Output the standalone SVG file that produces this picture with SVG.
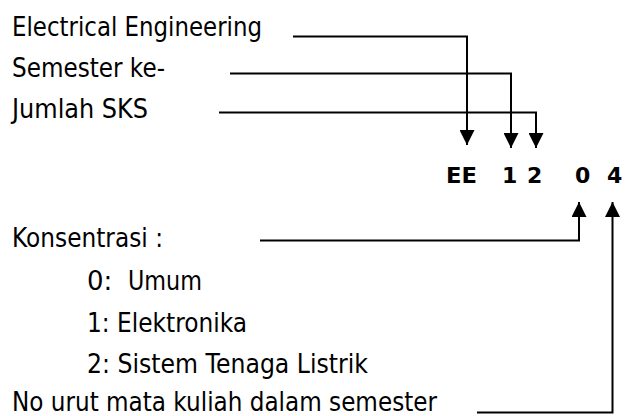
<svg xmlns="http://www.w3.org/2000/svg" width="627" height="416" viewBox="0 0 627 416">
<defs>
<style>
.t{font-family:"DejaVu Sans","Liberation Sans",sans-serif;font-size:26px;fill:#000}
.b{font-family:"DejaVu Sans","Liberation Sans",sans-serif;font-weight:bold;font-size:22px;fill:#000}
.c{fill:none;stroke:#000;stroke-width:2}
</style>
<marker id="ah" viewBox="0 0 15 15" refX="15" refY="7.5" markerWidth="15" markerHeight="15" markerUnits="userSpaceOnUse" orient="auto">
<path d="M0,0 L15,7.5 L0,15 Z" fill="#000"/>
</marker>
</defs>
<rect width="627" height="416" fill="#fff"/>
<g id="label-ee"><text class="t" x="12" y="36" textLength="250" lengthAdjust="spacingAndGlyphs">Electrical Engineering</text></g>
<g id="label-semester"><text class="t" x="12" y="77" textLength="153" lengthAdjust="spacingAndGlyphs">Semester ke-</text></g>
<g id="label-sks"><text class="t" x="12" y="118" textLength="136" lengthAdjust="spacingAndGlyphs">Jumlah SKS</text></g>
<g id="code">
<text class="b" x="446" y="183" textLength="31" lengthAdjust="spacingAndGlyphs">EE</text>
<text class="b" x="502" y="183">1</text>
<text class="b" x="527" y="183">2</text>
<text class="b" x="575" y="183">0</text>
<text class="b" x="607" y="183">4</text>
</g>
<g id="label-konsentrasi"><text class="t" x="12" y="247" textLength="151" lengthAdjust="spacingAndGlyphs">Konsentrasi :</text></g>
<g id="opt-0"><text class="t" x="87" y="290">0:</text><text class="t" x="128" y="290" textLength="74" lengthAdjust="spacingAndGlyphs">Umum</text></g>
<g id="opt-1"><text class="t" x="87" y="332" textLength="160" lengthAdjust="spacingAndGlyphs">1: Elektronika</text></g>
<g id="opt-2"><text class="t" x="87" y="373" textLength="281" lengthAdjust="spacingAndGlyphs">2: Sistem Tenaga Listrik</text></g>
<g id="label-nourut"><text class="t" x="12" y="411" textLength="425" lengthAdjust="spacingAndGlyphs">No urut mata kuliah dalam semester</text></g>
<g id="connectors">
<path class="c" d="M293,36.5 H467 V145" marker-end="url(#ah)"/>
<path class="c" d="M230,73.5 H511 V148" marker-end="url(#ah)"/>
<path class="c" d="M219,112.5 H536 V148" marker-end="url(#ah)"/>
<path class="c" d="M260,240.5 H579 V202" marker-end="url(#ah)"/>
<path class="c" d="M477,412.5 H612.5 V202" marker-end="url(#ah)"/>
</g>
</svg>
